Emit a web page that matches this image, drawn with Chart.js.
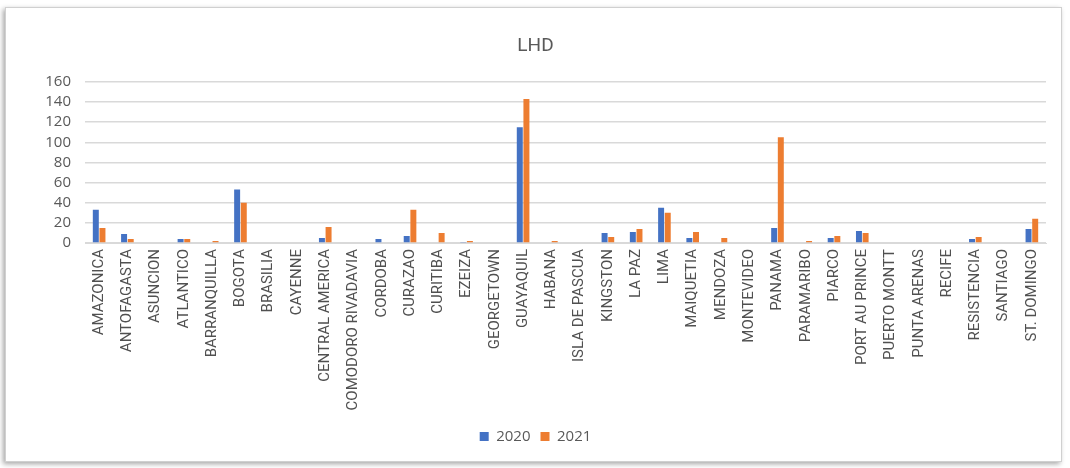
<!DOCTYPE html>
<html>
<head>
<meta charset="utf-8">
<script src="https://cdn.jsdelivr.net/npm/chart.js@4"></script>
<style>
  body { margin: 0; background: #fff; }
  #frame {
    position: absolute; left: 5px; top: 7px; width: 1055px; height: 453px;
    border: 1px solid #d0d0d0; box-shadow: -2px 2px 5px rgba(0,0,0,0.35);
  }
  canvas { position: absolute; left: 0; top: 0; }
</style>
</head>
<body>
<div id="frame"></div>
<canvas id="myChart" width="1070" height="468"></canvas>
<script>
const labels = [
    "AMAZONICA", "ANTOFAGASTA", "ASUNCION", "ATLANTICO", "BARRANQUILLA",
    "BOGOTA", "BRASILIA", "CAYENNE", "CENTRAL AMERICA", "COMODORO RIVADAVIA",
    "CORDOBA", "CURAZAO", "CURITIBA", "EZEIZA", "GEORGETOWN",
    "GUAYAQUIL", "HABANA", "ISLA DE PASCUA", "KINGSTON", "LA PAZ",
    "LIMA", "MAIQUETIA", "MENDOZA", "MONTEVIDEO", "PANAMA",
    "PARAMARIBO", "PIARCO", "PORT AU PRINCE", "PUERTO MONTT", "PUNTA ARENAS",
    "RECIFE", "RESISTENCIA", "SANTIAGO", "ST. DOMINGO"
];
const values2020 = [33, 9, 0, 4, 0, 53, 0, 0, 5, 0, 4, 7, 0, 1, 0, 115, 0, 0, 10, 11,
    35, 5, 0, 0, 15, 0, 5, 12, 0, 0, 0, 4, 0, 14];
const values2021 = [15, 4, 0, 4, 2, 40, 0, 0, 16, 0, 0, 33, 10, 2, 0, 143, 2, 0, 6, 14,
    30, 11, 5, 0, 105, 2, 7, 10, 0, 0, 0, 6, 0, 24];
const yTicks = [0, 20, 40, 60, 80, 100, 120, 140, 160];

const textColor = "#595959";
const gridColor = "#d9d9d9";

const datasets = [
    { label: "2020", data: values2020, backgroundColor: "#4472C4",
      barPercentage: 0.9, categoryPercentage: 0.47 },
    { label: "2021", data: values2021, backgroundColor: "#ED7D31",
      barPercentage: 0.9, categoryPercentage: 0.47 }
];

const myChart = new Chart(document.getElementById("myChart"), {
    type: "bar",
    data: { labels, datasets },
    options: {
        responsive: false,
        animation: false,
        layout: { padding: { left: 25, right: 24, top: 0, bottom: 14 } },
        plugins: {
            title: {
                display: true,
                text: "LHD",
                color: textColor,
                font: { size: 19, family: "Roboto", weight: "normal" },
                padding: { top: 35, bottom: 24 }
            },
            legend: {
                position: "bottom",
                labels: {
                    color: textColor,
                    boxWidth: 9, boxHeight: 9,
                    font: { size: 15, family: "Open Sans" },
                    padding: 10
                }
            },
            tooltip: { enabled: false }
        },
        scales: {
            x: {
                grid: { display: false, drawTicks: false },
                border: { color: gridColor },
                ticks: {
                    color: "#505050",
                    minRotation: 90, maxRotation: 90,
                    autoSkip: false,
                    padding: 6,
                    font: { size: 15, family: "Roboto" }
                },
                afterFit: s => { s.height = 176; }
            },
            y: {
                min: 0, max: 160,
                afterBuildTicks: s => { s.ticks = yTicks.map(v => ({ value: v })); },
                grid: { color: gridColor, drawTicks: false, lineWidth: 1.5 },
                border: { display: false },
                ticks: {
                    color: textColor,
                    autoSkip: false,
                    padding: 14,
                    font: { size: 15, family: "Open Sans" }
                },
                afterFit: s => { s.width = 60; }
            }
        }
    }
});
</script>
</body>
</html>
